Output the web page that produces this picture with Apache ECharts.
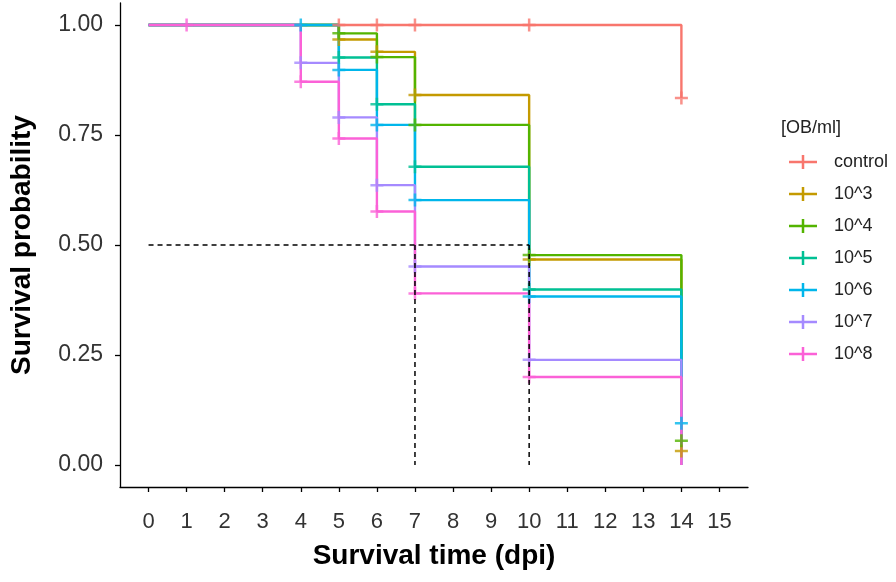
<!DOCTYPE html>
<html>
<head>
<meta charset="utf-8">
<script src="https://cdn.jsdelivr.net/npm/echarts@6/dist/echarts.min.js"></script>
<style>html,body{margin:0;padding:0;background:#fff}#c{width:896px;height:582px}</style>
</head>
<body>
<div id="c"></div>
<script>
// ---- data ----
const groups = ['control', '10^3', '10^4', '10^5', '10^6', '10^7', '10^8'];
const colors = ['#F8766D', '#C49A00', '#53B400', '#00C094', '#00B6EB', '#A58AFF', '#FB61D7'];

// Kaplan-Meier step curves: event times and survival after each time
const timesControl = [0, 14];
const survControl = [1, 0.834];
const times3 = [0, 5, 6, 7, 10, 14];
const surv3 = [1, 0.967, 0.939, 0.841, 0.467, 0.032];
const times4 = [0, 5, 6, 7, 10, 14];
const surv4 = [1, 0.981, 0.927, 0.773, 0.477, 0.055];
const times5 = [0, 5, 6, 7, 10, 14];
const surv5 = [1, 0.926, 0.820, 0.678, 0.399, 0];
const times6 = [0, 5, 6, 7, 10, 14];
const surv6 = [1, 0.898, 0.773, 0.602, 0.383, 0.095];
const times7 = [0, 4, 5, 6, 7, 10, 14];
const surv7 = [1, 0.914, 0.790, 0.636, 0.451, 0.239, 0];
const times8 = [0, 4, 5, 6, 7, 10, 14];
const surv8 = [1, 0.871, 0.742, 0.576, 0.390, 0.200, 0];

// censoring marks (+)
const censTControl = [5, 6, 7, 10, 14];
const censSControl = [1, 1, 1, 1, 0.834];
const censT3 = [5, 6, 7, 10, 14];
const censS3 = [0.967, 0.939, 0.841, 0.467, 0.032];
const censT4 = [5, 6, 7, 10, 14];
const censS4 = [0.981, 0.927, 0.773, 0.477, 0.055];
const censT5 = [5, 6, 7, 10];
const censS5 = [0.926, 0.820, 0.678, 0.399];
const censT6 = [4, 5, 6, 7, 10, 14];
const censS6 = [1, 0.898, 0.773, 0.602, 0.383, 0.095];
const censT7 = [4, 5, 6, 7, 10];
const censS7 = [0.914, 0.790, 0.636, 0.451, 0.239];
const censT8 = [1, 4, 5, 6, 7, 10];
const censS8 = [1, 0.871, 0.742, 0.576, 0.390, 0.200];

// median survival lines
const medianLevel = 0.5;
const medianTimes = [7, 10];

const xTicks = [0, 1, 2, 3, 4, 5, 6, 7, 8, 9, 10, 11, 12, 13, 14, 15];
const yTicks = [0, 0.25, 0.5, 0.75, 1];

// ---- build ----
const stepT = [timesControl, times3, times4, times5, times6, times7, times8];
const stepS = [survControl, surv3, surv4, surv5, surv6, surv7, surv8];
const censT = [censTControl, censT3, censT4, censT5, censT6, censT7, censT8];
const censS = [censSControl, censS3, censS4, censS5, censS6, censS7, censS8];

const plusPath = 'path://M5.25,0H7.75V5.25H13V7.75H7.75V13H5.25V7.75H0V5.25H5.25Z';
const legendPath = 'path://M0,5.75H28V8.25H0Z M12.75,0H15.25V14H12.75Z';

const series = [];
groups.forEach((g, i) => {
  series.push({
    name: g, type: 'line', step: 'end', showSymbol: false, symbol: 'none',
    color: colors[i],
    lineStyle: { width: 2.4, color: colors[i] },
    data: stepT[i].map((t, k) => [t, stepS[i][k]]),
    z: 2
  });
});
groups.forEach((g, i) => {
  series.push({
    name: g, type: 'scatter', symbol: plusPath, symbolSize: 13,
    color: colors[i],
    itemStyle: { color: colors[i] },
    data: censT[i].map((t, k) => [t, censS[i][k]]),
    z: 3
  });
});
const dashStyle = { color: '#000', width: 1.5, type: [5, 4] };
series.push({
  type: 'line', symbol: 'none', lineStyle: dashStyle, z: 4, silent: true,
  data: [[0, medianLevel], [Math.max(...medianTimes), medianLevel]]
});
medianTimes.forEach(t => {
  series.push({
    type: 'line', symbol: 'none', lineStyle: dashStyle, z: 4, silent: true,
    data: [[t, medianLevel], [t, 0]]
  });
});

const chart = echarts.init(document.getElementById('c'), null, { renderer: 'canvas' });
chart.setOption({
  animation: false,
  backgroundColor: '#fff',
  title: {
    text: '[OB/ml]', left: 776, top: 114,
    textStyle: { fontFamily: 'Liberation Sans', fontSize: 18, fontWeight: 'normal', color: '#222' }
  },
  legend: {
    orient: 'vertical', left: 784, top: 147,
    itemWidth: 28, itemHeight: 14, itemGap: 12,
    textStyle: { fontFamily: 'Liberation Sans', fontSize: 18, color: '#222', lineHeight: 20, padding: [0, 0, 0, 12] },
    data: groups.map(g => ({ name: g, icon: legendPath }))
  },
  grid: { left: 117, right: 148, top: 3, bottom: 95, containLabel: false },
  xAxis: {
    type: 'value', min: -0.75, max: 15.75,
    name: 'Survival time (dpi)', nameLocation: 'middle', nameGap: 55,
    nameTextStyle: { fontFamily: 'Liberation Sans', fontSize: 28, fontWeight: 'bold', color: '#000' },
    axisLine: { show: true, onZero: false, lineStyle: { color: '#000', width: 1.3 } },
    axisTick: { show: true, length: 5, lineStyle: { color: '#000', width: 1.3 }, customValues: xTicks },
    axisLabel: { fontFamily: 'Liberation Sans', fontSize: 22, color: '#333', margin: 24, customValues: xTicks },
    splitLine: { show: false }
  },
  yAxis: {
    type: 'value', min: -0.05, max: 1.05,
    name: 'Survival probability', nameLocation: 'middle', nameGap: 84, nameRotate: 90,
    nameTextStyle: { fontFamily: 'Liberation Sans', fontSize: 28, fontWeight: 'bold', color: '#000' },
    axisLine: { show: true, onZero: false, lineStyle: { color: '#000', width: 1.3 } },
    axisTick: { show: true, length: 5, lineStyle: { color: '#000', width: 1.3 }, customValues: yTicks },
    axisLabel: { fontFamily: 'Liberation Sans', fontSize: 23, color: '#333', margin: 17, customValues: yTicks,
      formatter: v => v.toFixed(2) },
    splitLine: { show: false }
  },
  series: series
});
</script>
</body>
</html>
